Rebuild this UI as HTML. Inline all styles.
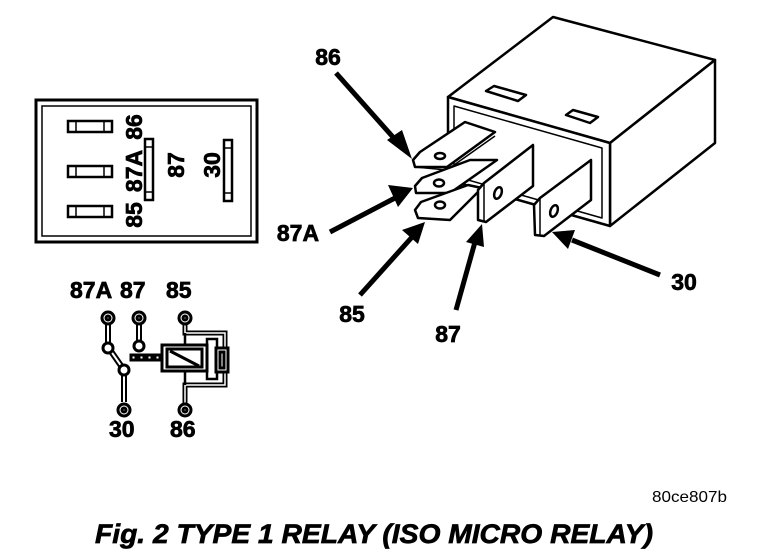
<!DOCTYPE html>
<html><head><meta charset="utf-8"><style>
html,body{margin:0;padding:0;background:#fff;}
svg{display:block;}
text{font-family:"Liberation Sans",Arial,sans-serif;font-weight:bold;fill:#000;}
.b{stroke:#000;stroke-width:0.7;}
</style></head><body>
<svg width="768" height="554" viewBox="0 0 768 554" xmlns="http://www.w3.org/2000/svg">
<!-- Left pin layout box -->
<rect x="36" y="100" width="221" height="142" fill="none" stroke="#000" stroke-width="3"/>
<rect x="42" y="106" width="209" height="130" fill="none" stroke="#000" stroke-width="1.5"/>
<g fill="none" stroke="#000" stroke-width="2.5">
<rect x="68" y="121" width="44" height="11"/>
<rect x="68" y="166" width="44" height="11"/>
<rect x="68" y="206" width="44" height="11"/>
<rect x="145" y="139" width="8" height="61"/>
<rect x="224" y="140" width="8" height="61"/>
</g>
<g stroke="#000" stroke-width="1.5">
<line x1="76" y1="121" x2="76" y2="132"/><line x1="104" y1="121" x2="104" y2="132"/>
<line x1="76" y1="166" x2="76" y2="177"/><line x1="104" y1="166" x2="104" y2="177"/>
<line x1="76" y1="206" x2="76" y2="217"/><line x1="104" y1="206" x2="104" y2="217"/>
<line x1="145" y1="147" x2="153" y2="147"/><line x1="145" y1="192" x2="153" y2="192"/>
<line x1="224" y1="148" x2="232" y2="148"/><line x1="224" y1="193" x2="232" y2="193"/>
</g>
<g font-size="23" class="b">
<text transform="translate(142,127) rotate(-90)" text-anchor="middle">86</text>
<text transform="translate(142,171) rotate(-90)" text-anchor="middle">87A</text>
<text transform="translate(142,215) rotate(-90)" text-anchor="middle">85</text>
<text transform="translate(184,165) rotate(-90)" text-anchor="middle">87</text>
<text transform="translate(220,165) rotate(-90)" text-anchor="middle">30</text>
</g>

<!-- Schematic -->
<g font-size="23" class="b">
<text x="70" y="298">87A</text>
<text x="120" y="298">87</text>
<text x="166" y="298">85</text>
<text x="109" y="437">30</text>
<text x="170" y="437">86</text>
</g>
<g fill="none" stroke="#000" stroke-width="3">
<line x1="108" y1="318" x2="108" y2="347" stroke-width="6"/>
<line x1="108" y1="318" x2="108" y2="347" stroke="#fff" stroke-width="2"/>
<line x1="139" y1="318" x2="139" y2="347" stroke-width="6"/>
<line x1="139" y1="318" x2="139" y2="347" stroke="#fff" stroke-width="2"/>
<line x1="108" y1="347" x2="124" y2="370" stroke-width="6"/>
<line x1="108" y1="347" x2="124" y2="370" stroke="#fff" stroke-width="2"/>
<line x1="124" y1="370" x2="124" y2="402" stroke-width="6"/>
<line x1="124" y1="370" x2="124" y2="402" stroke="#fff" stroke-width="2"/>
<path d="M185 324 V333 H225 V385 H185 V404" stroke-width="5"/>
<path d="M185 324 V333 H225 V385 H185 V404" stroke="#fff" stroke-width="1.5"/>
<path d="M207 345 V339 H217 V379 H207 V372" stroke-width="2.5"/>
<path d="M185 333 V345 M185 372 V385" stroke-width="2.5"/>
<circle cx="108" cy="318" r="6" fill="#fff"/><circle cx="108" cy="318" r="2"/>
<circle cx="139" cy="318" r="6" fill="#fff"/><circle cx="139" cy="318" r="2"/>
<circle cx="185" cy="318" r="6" fill="#fff"/><circle cx="185" cy="318" r="2"/>
<circle cx="124" cy="410" r="6" fill="#fff"/><circle cx="124" cy="410" r="2"/>
<circle cx="185" cy="410" r="6" fill="#fff"/><circle cx="185" cy="410" r="2"/>
<circle cx="108" cy="348" r="5" fill="#fff"/>
<circle cx="139" cy="346" r="5" fill="#fff"/>
<circle cx="124" cy="370" r="5" fill="#fff"/>
<rect x="131" y="355" width="5" height="5"/><rect x="139" y="355" width="5" height="5"/>
<rect x="147" y="355" width="5" height="5"/><rect x="155" y="355" width="5" height="5"/>
<rect x="162" y="345" width="45" height="26" fill="#fff"/>
<rect x="167" y="349" width="35" height="18"/>
<line x1="170" y1="351" x2="199" y2="366"/>
<rect x="216" y="348" width="12" height="24" fill="#fff"/>
<rect x="220" y="352" width="4" height="16"/>
</g>

<!-- Relay body -->
<g fill="#fff" stroke="#000" stroke-width="2.5" stroke-linejoin="round">
<path d="M448 97 L553 17 L715 60 L610 143 Z"/>
<path d="M610 143 L715 60 L715 143 L610 226 Z"/>
<path d="M448 97 L610 143 L610 226 L448 180 Z"/>
<path d="M454 106 L602 148 L602 218 L454 176 Z" fill="none" stroke-width="1.5"/>
<path d="M486 91 L494 86 L526 95 L518 101 Z"/>
<path d="M566 115 L573 110 L598 117 L590 123 Z"/>
<path d="M413 160 L420 152 L465 122 L495 132 L447 167 L415 167 Z"/>
<path d="M415 167 L447 170 L495 136" fill="none" stroke-width="1.5"/>
<ellipse cx="440" cy="156" rx="5" ry="3"/>
<path d="M415 186 L422 178 L470 160 L497 160 L450 193 L416 193 Z"/>
<ellipse cx="439" cy="183" rx="5" ry="3.5"/>
<path d="M415 210 L421 202 L468 185 L482 188 L450 220 L418 218 Z"/>
<ellipse cx="440" cy="205" rx="5" ry="3.5"/>
<path d="M478 190 L484 183 L533 145 L533 186 L486 222 L478 220 Z"/>
<path d="M484 183 L484 222" fill="none" stroke-width="1.5"/>
<ellipse cx="498" cy="193" rx="3.5" ry="6" transform="rotate(20 498 193)"/>
<path d="M534 205 L540 198 L591 160 L591 200 L544 236 L535 235 Z"/>
<path d="M540 198 L540 236" fill="none" stroke-width="1.5"/>
<ellipse cx="554" cy="211" rx="3.5" ry="6" transform="rotate(20 554 211)"/>
</g>

<!-- Arrows -->
<g stroke="#000" stroke-width="5" fill="#000">
<line x1="336" y1="73" x2="400" y2="145"/>
<polygon points="412,159 387,140 402,130" stroke="none"/>
<line x1="330" y1="232" x2="395" y2="198"/>
<polygon points="413,188 388,185 398,207" stroke="none"/>
<line x1="360" y1="295" x2="413" y2="236"/>
<polygon points="425,222 402,230 418,244" stroke="none"/>
<line x1="456" y1="310" x2="475" y2="242"/>
<polygon points="482,224 466,242 484,247" stroke="none"/>
<line x1="660" y1="275" x2="572" y2="240"/>
<polygon points="552,232 575,230 568,249" stroke="none"/>
</g>
<g font-size="23" class="b">
<text x="328" y="65" text-anchor="middle">86</text>
<text x="298" y="241" text-anchor="middle">87A</text>
<text x="352" y="322" text-anchor="middle">85</text>
<text x="448" y="342" text-anchor="middle">87</text>
<text x="684" y="290" text-anchor="middle">30</text>
</g>

<text x="652" y="502" font-size="16" textLength="75" lengthAdjust="spacingAndGlyphs" style="font-weight:normal">80ce807b</text>
<text x="95" y="543" font-size="27" font-style="italic" class="b" textLength="558" lengthAdjust="spacingAndGlyphs">Fig. 2 TYPE 1 RELAY (ISO MICRO RELAY)</text>
</svg>
</body></html>
